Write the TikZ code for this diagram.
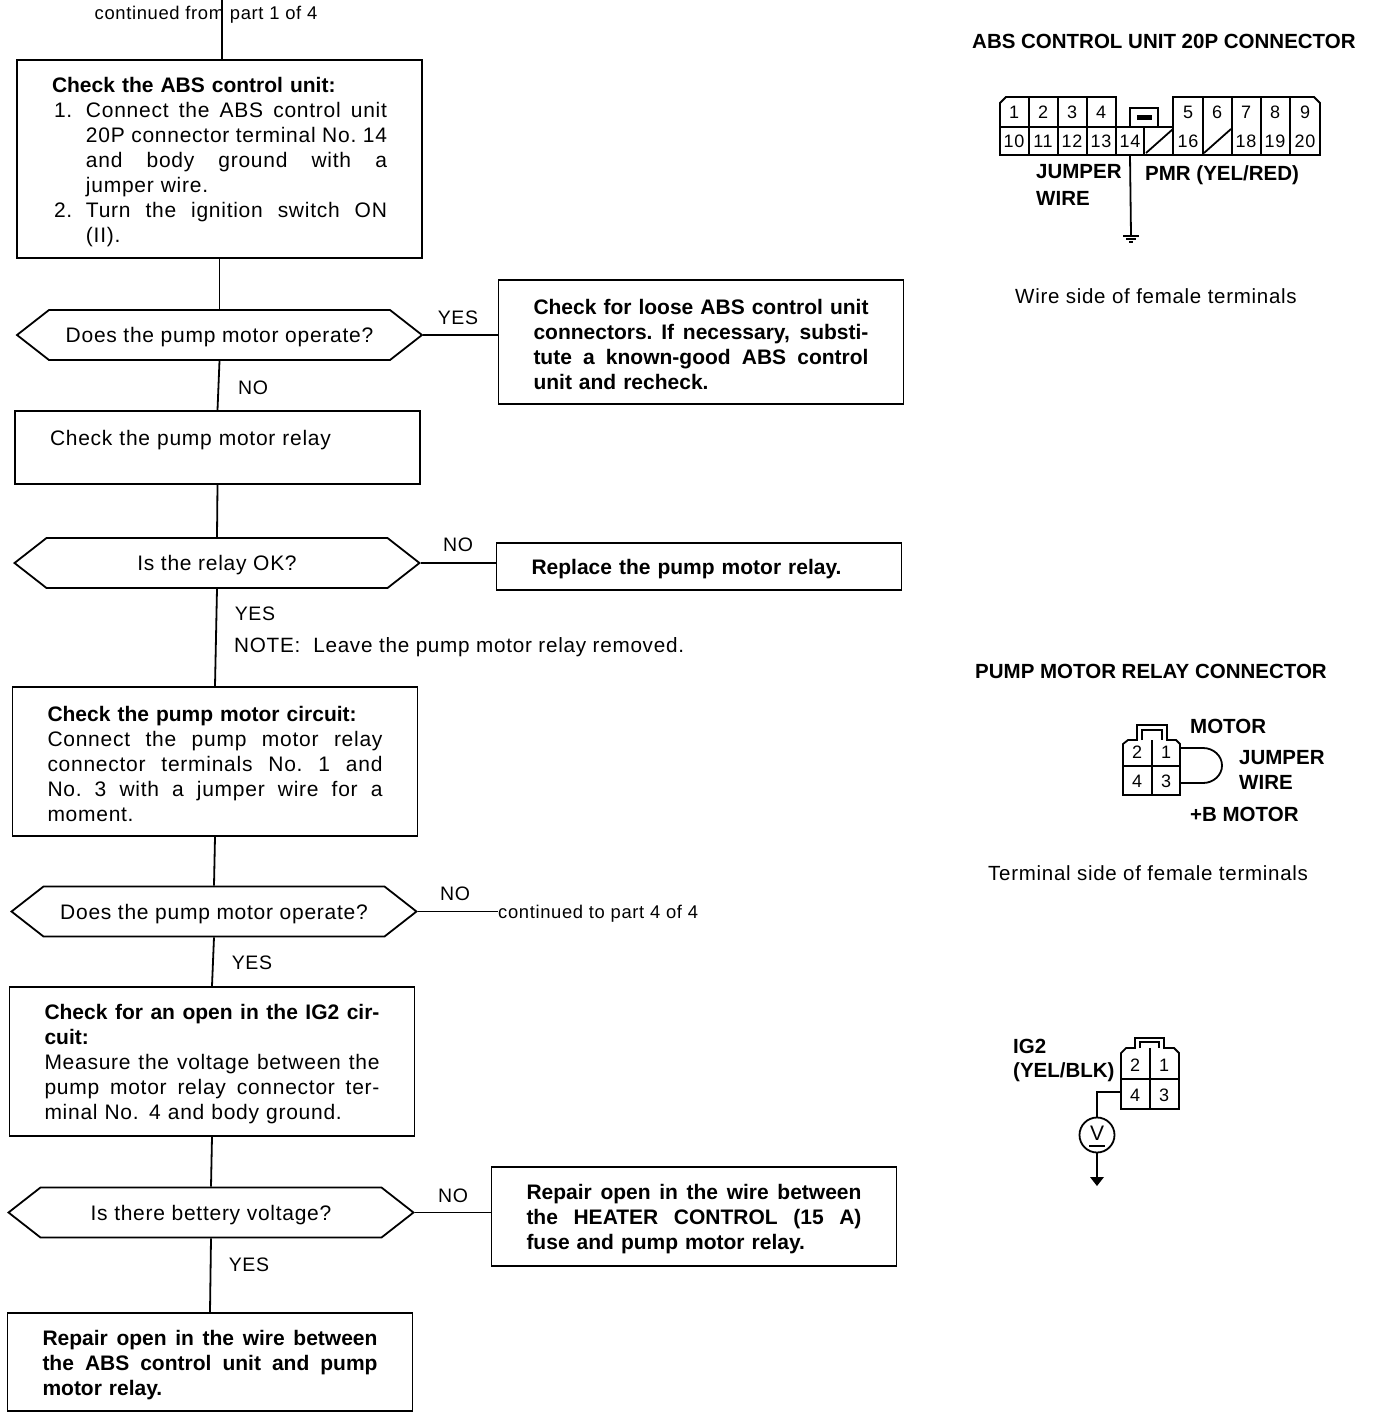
\documentclass[tikz,border=0pt]{standalone}
\usepackage{fontspec}
\setmainfont{Liberation Sans}[LetterSpace=3.5,BoldFeatures={LetterSpace=0}]
\usetikzlibrary{shapes.symbols}
\newcommand{\spread}[2]{\leavevmode\hbox to #1{\spaceskip=.25em plus 1fil minus .1em\xspaceskip=\spaceskip #2}}
\newcommand{\fl}[1]{\spread{335pt}{#1}}
\newcommand{\fn}[1]{\spread{301pt}{#1}}
\tikzset{
  flowbox/.style={draw,line width=1.8pt,minimum width=405pt,text width=335pt,align=left,inner sep=0pt,font=\fontsize{21}{25}\selectfont,execute at begin node={\rule{0pt}{21pt}}},
  fixbox/.style={flowbox,font=\fontsize{21}{25}\bfseries\selectfont},
  askbox/.style={draw,line width=1.8pt,signal,signal to=west and east,signal pointer angle=76,minimum width=405pt,minimum height=50pt,inner sep=0pt,font=\fontsize{21}{25}\selectfont,execute at begin node={\rule{0pt}{20pt}}},
  flowline/.style={line width=1.8pt},
  answer/.style={inner sep=0pt,font=\fontsize{19.5}{25}\selectfont},
  linktext/.style={inner sep=0pt,font=\fontsize{18.4}{20}\selectfont},
  sidetext/.style={inner sep=0pt,anchor=west,align=left,font=\fontsize{20.5}{25}\selectfont},
  sidebold/.style={sidetext,font=\fontsize{20.5}{25}\bfseries\selectfont},
  pinlabel/.style={inner sep=0pt,minimum width=28pt,minimum height=28pt,font=\fontsize{18}{20}\selectfont},
  shell/.style={line width=1.8pt},
}
\begin{document}
\begin{tikzpicture}[x=1pt,y=-1pt]
\useasboundingbox (0,0) rectangle (1376,1428);
% flow chart
\coordinate (start) at (222,0);
\node[linktext] (from) at (206,15) {continued from part 1 of 4};
\node[flowbox,minimum height=198pt] (check1) at (219.5,159) {\textbf{Check the ABS control unit:}\\
  \hspace{2pt}\makebox[32pt][l]{1.}\fn{Connect the ABS control unit}\\
  \hspace{34pt}\fn{20P connector terminal No. 14}\\
  \hspace{34pt}\fn{and body ground with a}\\
  \hspace{34pt}jumper wire.\\
  \hspace{2pt}\makebox[32pt][l]{2.}\fn{Turn the ignition switch ON}\\
  \hspace{34pt}(II).};
\node[askbox] (ask1) at (219.5,335) {Does the pump motor operate?};
\node[fixbox,minimum height=124pt] (fix1) at (701,342) {\fl{Check for loose ABS control unit}\\
  \fl{connectors. If necessary, substi-}\\
  \fl{tute a known-good ABS control}\\
  unit and recheck.};
\node[flowbox,minimum height=73pt] (check2) at (217.5,447.5) {Check the pump motor relay\\\mbox{}};
\node[askbox] (ask2) at (217,563) {Is the relay OK?};
\node[fixbox,minimum height=47pt] (fix2) at (699,566.5) {Replace the pump motor relay.};
\node[flowbox,minimum height=149pt] (check3) at (215,761.5) {\textbf{Check the pump motor circuit:}\\
  \fl{Connect the pump motor relay}\\
  \fl{connector terminals No. 1 and}\\
  \fl{No. 3 with a jumper wire for a}\\
  moment.};
\node[askbox] (ask3) at (214,911.5) {Does the pump motor operate?};
\node[flowbox,minimum height=149pt] (check4) at (212,1061.5) {\textbf{\fl{Check for an open in the IG2 cir-}}\\
  \textbf{cuit:}\\
  \fl{Measure the voltage between the}\\
  \fl{pump motor relay connector ter-}\\
  minal No. 4 and body ground.};
\node[askbox] (ask4) at (211,1212.5) {Is there bettery voltage?};
\node[fixbox,minimum height=99pt] (fix4) at (694,1216.5) {\fl{Repair open in the wire between}\\
  \fl{the HEATER CONTROL (15 A)}\\
  fuse and pump motor relay.};
\node[fixbox,minimum height=98pt] (fix5) at (210,1362) {\fl{Repair open in the wire between}\\
  \fl{the ABS control unit and pump}\\
  motor relay.};
\node[linktext,anchor=west] (to) at (498,914) {continued to part 4 of 4};
\node[answer] (yes1) at (458,318) {YES};
\node[answer] (no1) at (253,388) {NO};
\node[answer] (no2) at (458,545) {NO};
\node[answer] (yes2) at (255,614) {YES};
\node[answer,anchor=west,font=\fontsize{20.7}{25}\selectfont] (note) at (234,647) {NOTE:\ \ Leave the pump motor relay removed.};
\node[answer] (no3) at (455,894) {NO};
\node[answer] (yes3) at (252,963) {YES};
\node[answer] (no4) at (453,1196) {NO};
\node[answer] (yes4) at (249,1265) {YES};
\draw[flowline] (start) -- (start |- check1.north);
\draw[flowline] (check1.south) -- (ask1.north);
\draw[flowline] (ask1.south) -- (check2.north);
\draw[flowline] (check2.south) -- (ask2.north);
\draw[flowline] (ask2.south) -- (check3.north);
\draw[flowline] (check3.south) -- (ask3.north);
\draw[flowline] (ask3.south) -- (check4.north);
\draw[flowline] (check4.south) -- (ask4.north);
\draw[flowline] (ask4.south) -- (fix5.north);
\draw[flowline] (ask1.east) -- (ask1.east -| fix1.west);
\draw[flowline] (ask2.east) -- (ask2.east -| fix2.west);
\draw[flowline] (ask3.east) -- (ask3.east -| to.west);
\draw[flowline] (ask4.east) -- (ask4.east -| fix4.west);
% 20P connector
\node[sidebold] (title1) at (972,41) {ABS CONTROL UNIT 20P CONNECTOR};
\draw[shell] (1000,127) -- (1000,103) -- (1006,97) -- (1116,97) -- (1116,127);
\draw[shell] (1173,127) -- (1173,97) -- (1314,97) -- (1320,103) -- (1320,155) -- (1000,155) -- (1000,127) -- cycle;
\draw[shell] (1130,127) -- (1130,108) -- (1158,108) -- (1158,127);
\fill (1137,115) rectangle (1152,120);
\foreach \x/\n in {1014/1,1043/2,1072/3,1101/4,1188/5,1217/6,1246/7,1275/8,1305/9}
  \node[pinlabel] (pin\n) at (\x,112) {\n};
\foreach \x/\n in {1014/10,1043/11,1072/12,1101/13,1130/14,1188/16,1246/18,1275/19,1305/20}
  \node[pinlabel] (pin\n) at (\x,141) {\n};
\foreach \x in {1029,1058,1087,1203,1232,1261,1290}
  \draw[shell] (\x,97) -- (\x,155);
\foreach \x in {1116,1144,1173}
  \draw[shell] (\x,127) -- (\x,155);
\foreach \x in {1146,1204}
  \draw[shell] (\x,153) -- (\x+27,129);
\draw[flowline] (pin14.south) -- (1131,235) coordinate (gnd1);
\draw[flowline] (1123,236) -- (1139,236) (1126,239) -- (1136,239) (1129,242) -- (1133,242);
\node[sidebold] (jumper1) at (1036,172) {JUMPER};
\node[sidebold] (wire1) at (1036,198) {WIRE};
\node[sidebold] (pmr) at (1145,175) {PMR (YEL/RED)};
\node[sidetext] (side1) at (1015,296) {Wire side of female terminals};
% relay connector
\node[sidebold] (title2) at (975,671) {PUMP MOTOR RELAY CONNECTOR};
\draw[shell] (1123,795) -- (1123,744) -- (1128,740) -- (1137,740) -- (1137,725) -- (1167,725) -- (1167,740) -- (1176,740) -- (1180,744) -- (1180,795) -- cycle;
\draw[shell] (1142,740) -- (1142,730) -- (1162,730) -- (1162,740);
\draw[shell] (1123,766) -- (1180,766) (1152,740) -- (1152,795);
\node[pinlabel] (relay2) at (1137,752) {2};
\node[pinlabel] (relay1) at (1166,752) {1};
\node[pinlabel] (relay4) at (1137,781) {4};
\node[pinlabel] (relay3) at (1166,781) {3};
\coordinate (jumpa) at (1180,748);
\coordinate (jumpb) at (1180,783);
\draw[flowline] (jumpa) -- (1203,748) arc[start angle=-90,end angle=90,x radius=19,y radius=17.5] -- (jumpb);
\node[sidebold] (motor) at (1190,726) {MOTOR};
\node[sidebold] (jumper2) at (1239,758) {JUMPER};
\node[sidebold] (wire2) at (1239,782) {WIRE};
\node[sidebold] (bplus) at (1190,814) {+B MOTOR};
\node[sidetext] (side2) at (988,873) {Terminal side of female terminals};
% voltage check
\draw[shell] (1121,1109) -- (1121,1053) -- (1126,1048) -- (1135,1048) -- (1135,1038) -- (1164,1038) -- (1164,1048) -- (1174,1048) -- (1179,1053) -- (1179,1109) -- cycle;
\draw[shell] (1140,1048) -- (1140,1042) -- (1159,1042) -- (1159,1048);
\draw[shell] (1121,1079) -- (1179,1079) (1150,1048) -- (1150,1109);
\node[pinlabel] (coil2) at (1135,1065) {2};
\node[pinlabel] (coil1) at (1164,1065) {1};
\node[pinlabel] (coil4) at (1135,1095) {4};
\node[pinlabel] (coil3) at (1164,1095) {3};
\node[draw,circle,line width=1.8pt,minimum size=35pt,inner sep=0pt,font=\fontsize{21}{20}\selectfont] (meter) at (1097,1135) {\raisebox{3pt}{V}};
\draw[line width=2.5pt] (1089,1146) -- (1105,1146);
\coordinate (earth) at (1097,1177);
\coordinate (tap) at (1121,1092);
\draw[flowline] (tap) -| (meter.north);
\draw[flowline] (meter.south) -- (earth);
\fill (1090,1177) -- (1104,1177) -- (1097,1186) -- cycle;
\node[sidebold] (ig2) at (1013,1046) {IG2};
\node[sidebold] (yelblk) at (1013,1072) {(YEL/BLK)};
\end{tikzpicture}
\end{document}
